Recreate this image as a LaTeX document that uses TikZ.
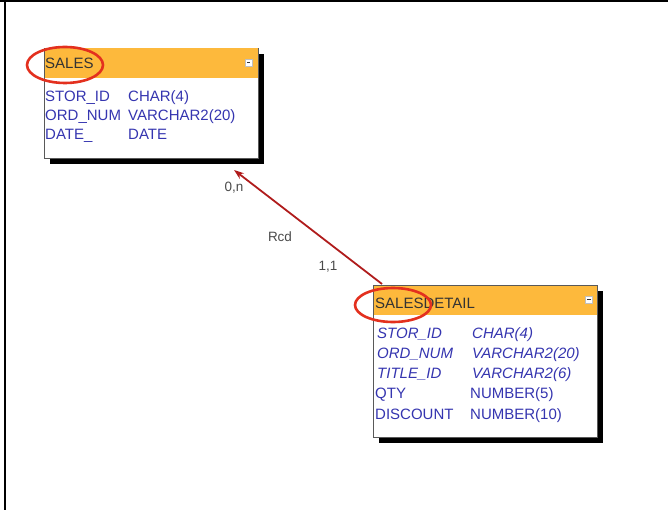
\documentclass[tikz,border=0pt]{standalone}
\usepackage{fontspec}
\setmainfont{Liberation Sans}
\usetikzlibrary{arrows.meta,shapes.geometric}
\definecolor{hdrfill}{HTML}{FDB93C}
\definecolor{fieldblue}{HTML}{3535B0}
\definecolor{relred}{HTML}{B01C1C}
\definecolor{ringred}{HTML}{E3301E}
\definecolor{labelgray}{HTML}{4A4A4A}
\begin{document}
\begin{tikzpicture}[x=1pt,y=-1pt,
  tablebox/.style={draw=black!65, line width=0.9pt, fill=white, anchor=north west,
    inner sep=0pt, outer sep=0pt},
  shadowbox/.style={fill=black},
  headband/.style={fill=hdrfill},
  hdrtext/.style={anchor=base west, inner sep=0pt, font=\fontsize{15}{17}\selectfont, text=black!80},
  fieldtext/.style={anchor=base west, inner sep=0pt, font=\fontsize{15}{17}\selectfont, text=fieldblue},
  keytext/.style={fieldtext, font=\fontsize{15}{17}\selectfont\itshape},
  mintoggle/.style={draw=black!25, fill=white, minimum size=7pt, inner sep=0pt,
    path picture={\fill[black!80] ([xshift=-1.6pt]path picture bounding box.center) rectangle ([xshift=1.6pt,yshift=1pt]path picture bounding box.center);}},
  ring/.style={draw=ringred, line width=2.6pt, ellipse, inner sep=0pt},
  relline/.style={draw=relred, line width=1.8pt, -{Stealth[length=10pt,width=7pt]}},
  cardlabel/.style={inner sep=0pt, font=\fontsize{13.5}{15}\selectfont, text=labelgray}
]
\useasboundingbox (0,0) rectangle (668,510);

% page frame
\draw[line width=2.2pt] (0,1) -- (668,1);
\draw[line width=2.2pt] (5,0) -- (5,510);

% ---------- SALES ----------
\fill[shadowbox] (50,54) rectangle (264,164);
\node[tablebox, minimum width=214pt, minimum height=110pt] (sales) at (44,48) {};
\fill[headband] (44.5,48.5) rectangle (257.5,78);
\node[mintoggle] (salesmin) at (248.5,63) {};
\node[hdrtext] (salesname) at (45,69) {SALES};
\node[fieldtext] (s1a) at (45,102) {STOR\_ID};
\node[fieldtext] (s1b) at (128,102) {CHAR(4)};
\node[fieldtext] (s2a) at (45,121) {ORD\_NUM};
\node[fieldtext] (s2b) at (128,121) {VARCHAR2(20)};
\node[fieldtext] (s3a) at (45,140) {DATE\_};
\node[fieldtext] (s3b) at (128,140) {DATE};
\node[ring, minimum width=76pt, minimum height=36pt] (salesring) at (65,65) {};

% ---------- SALESDETAIL ----------
\fill[shadowbox] (379,291) rectangle (603,443);
\node[tablebox, minimum width=224pt, minimum height=152pt] (detail) at (373,285) {};
\fill[headband] (373.5,285.5) rectangle (596.5,315);
\node[mintoggle] (detailmin) at (589,299.5) {};
\node[hdrtext] (detailname) at (375,308) {SALESDETAIL};
\node[keytext] (d1a) at (377,338) {STOR\_ID};
\node[keytext] (d1b) at (472,338) {CHAR(4)};
\node[keytext] (d2a) at (377,358) {ORD\_NUM};
\node[keytext] (d2b) at (472,358) {VARCHAR2(20)};
\node[keytext] (d3a) at (377,378) {TITLE\_ID};
\node[keytext] (d3b) at (472,378) {VARCHAR2(6)};
\node[fieldtext] (d4a) at (375,398) {QTY};
\node[fieldtext] (d4b) at (470,398) {NUMBER(5)};
\node[fieldtext] (d5a) at (375,419) {DISCOUNT};
\node[fieldtext] (d5b) at (470,419) {NUMBER(10)};
\node[ring, minimum width=76pt, minimum height=34pt] (detailring) at (393,305) {};

% ---------- relationship ----------
\coordinate (relfrom) at ([xshift=9pt,yshift=1pt]detail.north west);
\coordinate (relto) at ([xshift=190pt,yshift=-12pt]sales.south west);
\draw[relline] (relfrom) -- (relto);
\node[cardlabel] (cardmany) at (234,188) {0,n};
\node[cardlabel] (relname) at (280,237) {Rcd};
\node[cardlabel] (cardone) at (328,267) {1,1};
\end{tikzpicture}
\end{document}
